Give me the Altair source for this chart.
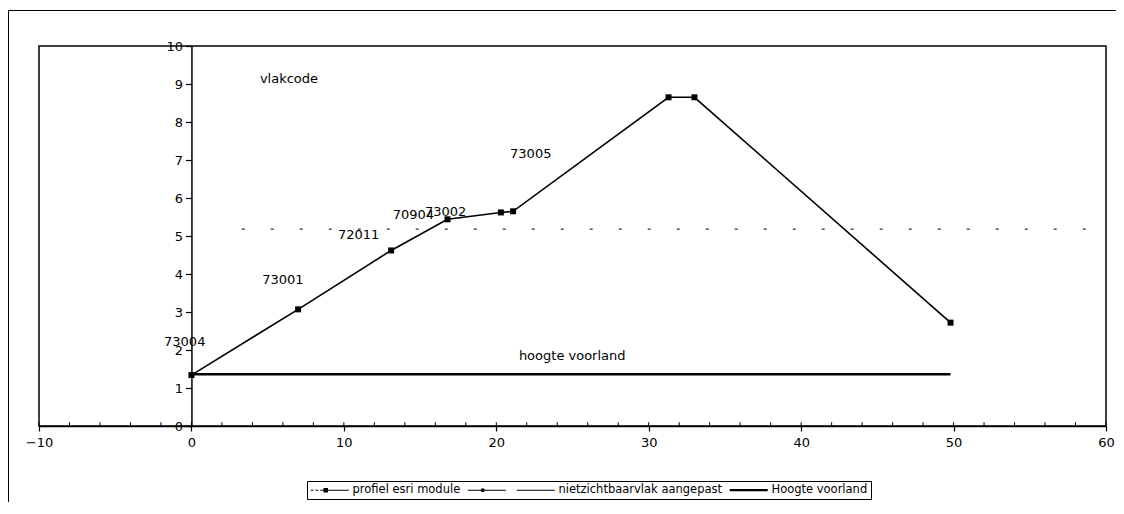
import altair as alt
import pandas as pd

# ---------------- data ----------------
# profiel esri module
profiel_x = [0.0, 7.0, 13.1, 16.8, 20.3, 21.1, 31.3, 33.0, 49.8]
profiel_y = [1.34, 3.07, 4.62, 5.44, 5.62, 5.65, 8.65, 8.65, 2.72]

# Hoogte voorland
voorland_x = [0.0, 49.8]
voorland_y = [1.36, 1.36]

# nietzichtbaarvlak aangepast (faint line)
niet_x = [3.3, 59.6]
niet_y = [5.18, 5.18]

# annotations (vlakcode labels)
label_text = ["vlakcode", "73004", "73001", "72011", "70904", "73002", "73005", "hoogte voorland"]
label_x = [6.4, -0.44, 6.0, 10.97, 14.56, 16.68, 22.26, 24.98]
label_y = [9.13, 2.21, 3.84, 5.02, 5.55, 5.64, 7.15, 1.84]

x_ticks = [-10, 0, 10, 20, 30, 40, 50, 60]
y_ticks = [0, 1, 2, 3, 4, 5, 6, 7, 8, 9, 10]
minor_x = [-10, -8, -6, -4, -2, 0, 2, 4, 6, 8, 10, 12, 14, 16, 18, 20, 22, 24, 26, 28,
           30, 32, 34, 36, 38, 40, 42, 44, 46, 48, 50, 52, 54, 56, 58, 60]

legend_names = ["profiel esri module", "reeks2", "nietzichtbaarvlak aangepast", "Hoogte voorland"]

# ---------------- styling ----------------
FONT = "DejaVu Sans"
PAD_L, PAD_T = 31, 38
W, H = 1067, 380


def hbar(x0, x1, h):
    return f"M{x0},{-h}H{x1}V{h}H{x0}Z"


sym_profiel = (hbar(-1, -0.45, 0.1) + hbar(-0.05, 0.5, 0.1) + hbar(0.9, 1.55, 0.1)
               + "M1.55,-0.45H2.45V0.45H1.55Z" + hbar(2.45, 6.6, 0.1))
sym_reeks2 = (hbar(-1, 1.6, 0.1) + "M1.6,0A0.4,0.4 0 1,1 2.4,0A0.4,0.4 0 1,1 1.6,0Z"
              + hbar(2.4, 6.6, 0.1))
sym_niet = hbar(-1, 6.6, 0.1)
sym_voorland = hbar(-1, 6.6, 0.22)
legend_paths = [sym_profiel, sym_reeks2, sym_niet, sym_voorland]

xscale = alt.Scale(domain=[-10, 60], nice=False, zero=False)
yscale = alt.Scale(domain=[0, 10], nice=False, zero=False)

xaxis = alt.Axis(values=x_ticks, title=None, grid=False, domainColor="black", domainWidth=1.5,
                 tickColor="black", tickSize=5, tickWidth=1.2, labelFont=FONT, labelFontSize=13,
                 labelColor="black", labelPadding=5, labelFlush=False, labelOverlap=False, format="d")
yaxis = alt.Axis(values=y_ticks, title=None, grid=False, offset=-W / 7.0, domainColor="black",
                 domainWidth=1.5, tickColor="black", tickSize=6, tickWidth=1.2, labelFont=FONT,
                 labelFontSize=13, labelColor="black", labelPadding=3, labelOverlap=False, format="d")


def X(field):
    return alt.X(field, type="quantitative", scale=xscale, axis=xaxis)


def Y(field):
    return alt.Y(field, type="quantitative", scale=yscale, axis=yaxis)


profiel_df = pd.DataFrame({"x": profiel_x, "y": profiel_y})
voorland_df = pd.DataFrame({"x": voorland_x, "y": voorland_y})
niet_df = pd.DataFrame({"x": niet_x, "y": niet_y})
label_df = pd.DataFrame({"text": label_text, "x": label_x, "y": label_y})
minor_df = pd.DataFrame({"x": minor_x})
legend_df = pd.DataFrame({"series": legend_names})

frame = alt.Chart(pd.DataFrame({"a": [0]})).mark_rect(
    fillOpacity=0, stroke="black", strokeWidth=1, clip=False
).encode(x=alt.value(-PAD_L + 0.5), y=alt.value(-PAD_T + 2.5), x2=alt.value(1400), y2=alt.value(800))

voorland = alt.Chart(voorland_df).mark_line(color="black", strokeWidth=2.6).encode(
    x=X("x"), y=Y("y"))

niet = alt.Chart(niet_df).mark_line(color="#333333", strokeWidth=1.1, strokeDash=[3, 26]).encode(
    x=X("x"), y=Y("y"))

profiel_line = alt.Chart(profiel_df).mark_line(color="black", strokeWidth=1.6).encode(
    x=X("x"), y=Y("y"))

profiel_pts = alt.Chart(profiel_df).mark_point(
    shape="square", filled=True, size=36, color="black", opacity=1
).encode(x=X("x"), y=Y("y"))

minor = alt.Chart(minor_df).mark_rule(color="black", strokeWidth=1).encode(
    x=X("x"), y=alt.datum(0, scale=yscale, axis=yaxis, type="quantitative"),
    y2=alt.datum(0.1))

labels = alt.Chart(label_df).mark_text(
    font=FONT, fontSize=13, color="black", align="center", baseline="middle"
).encode(x=X("x"), y=Y("y"), text="text:N")

legend_layer = alt.Chart(legend_df).mark_point(
    filled=True, size=100, color="black", opacity=1, clip=True
).encode(
    x=alt.value(-300), y=alt.value(-300),
    shape=alt.Shape(
        "series:N",
        scale=alt.Scale(domain=legend_names, range=legend_paths),
        legend=alt.Legend(
            orient="none", legendX=268, legendY=435, direction="horizontal", columns=4,
            title=None, strokeColor="black", fillColor="white", padding=3,
            labelFont=FONT, labelFontSize=11.5, labelColor="black", labelOffset=31,
            labelLimit=400, columnPadding=6, symbolFillColor="black", symbolStrokeWidth=0,
            labelExpr="datum.label == 'reeks2' ? '' : datum.label",
        ),
    ),
)

chart = alt.layer(
    frame, voorland, niet, profiel_line, profiel_pts, minor, labels, legend_layer
).properties(
    width=W, height=H,
    autosize=alt.AutoSizeParams(type="none"),
    padding={"left": PAD_L, "top": PAD_T, "right": 10, "bottom": 76},
    background="white",
).configure_view(stroke="black", strokeWidth=1.5)

chart.save("out.html", embed_options={"renderer": "svg", "actions": False})
